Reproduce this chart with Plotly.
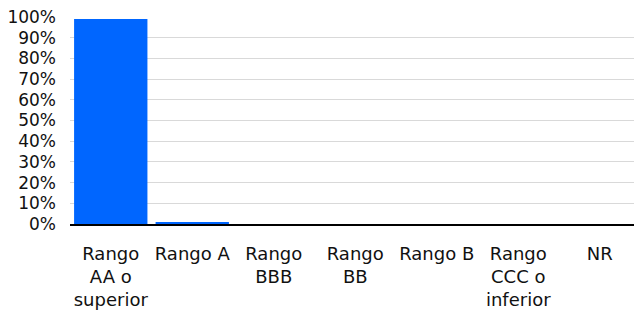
import plotly.graph_objects as go

categories = ["Rango<br>AA o<br>superior", "Rango A", "Rango<br>BBB", "Rango<br>BB", "Rango B", "Rango<br>CCC o<br>inferior", "NR"]
values = [99.0, 0.5, 0.0, 0.0, 0.0, 0.0, 0.0]
y_ticks = list(range(0, 101, 10))

fig = go.Figure(go.Bar(x=categories, y=values, marker=dict(color="#0066FF", line=dict(width=0))))

fig.update_layout(
    width=634, height=318,
    margin=dict(l=70, r=0, t=17, b=94),
    paper_bgcolor="white", plot_bgcolor="white",
    bargap=0.1,
    showlegend=False,
    font=dict(family="DejaVu Sans, sans-serif", size=17, color="#111111"),
)
fig.update_yaxes(
    range=[0, 100], tickvals=y_ticks, ticktext=[f"{v}%" for v in y_ticks],
    showgrid=True, gridcolor="#D9D9D9", gridwidth=1, zeroline=False,
    showline=False, ticks="", ticklabelstandoff=13,
    tickfont=dict(size=17),
)
fig.update_xaxes(
    range=[-0.5, 6.42],
    showline=True, linecolor="#000000", linewidth=2,
    ticks="", tickfont=dict(size=18), ticklabelstandoff=12,
)

fig.write_html("out.html", config={"displayModeBar": False},
               post_script="document.body.style.margin='0';")
